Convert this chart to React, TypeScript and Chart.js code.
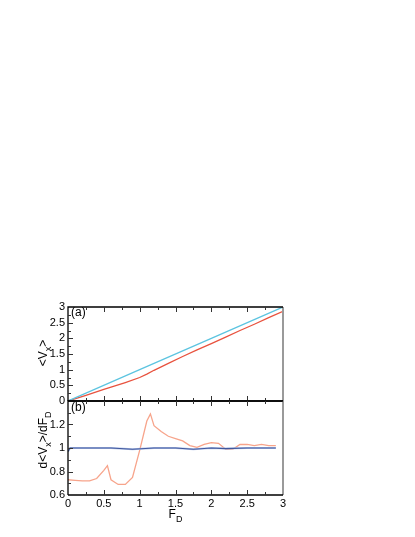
import React, { useEffect, useRef } from "react";
import { Chart, registerables } from "chart.js";

Chart.register(...registerables);

const FONT = "'Liberation Sans', Arial, Helvetica, sans-serif";

// ---- panel (a): <V_x> vs F_D ----
const fdBlueTop = [0, 1, 2, 3];
const vxBlueTop = [0, 1, 2, 3];
const fdRedTop = [0, 0.25, 0.5, 0.6, 0.8, 1.0, 1.1, 1.2, 1.4, 1.6, 1.8, 2.0, 2.2, 2.4, 2.6, 2.8, 3.0];
const vxRedTop = [0, 0.18, 0.37, 0.44, 0.59, 0.75, 0.86, 0.98, 1.2, 1.42, 1.63, 1.83, 2.04, 2.25, 2.45, 2.66, 2.86];

// ---- panel (b): d<V_x>/dF_D vs F_D ----
const fdRedDer = [0, 0.1, 0.2, 0.3, 0.4, 0.5, 0.55, 0.6, 0.7, 0.8, 0.9, 1.0, 1.1, 1.15, 1.2, 1.3, 1.4, 1.5, 1.6, 1.7, 1.8, 1.9, 2.0, 2.1, 2.2, 2.3, 2.4, 2.5, 2.6, 2.7, 2.8, 2.9];
const derRed = [0.73, 0.725, 0.72, 0.72, 0.74, 0.81, 0.85, 0.73, 0.69, 0.69, 0.75, 0.98, 1.23, 1.29, 1.19, 1.14, 1.1, 1.08, 1.06, 1.02, 1.005, 1.03, 1.045, 1.04, 0.99, 0.99, 1.03, 1.03, 1.02, 1.03, 1.02, 1.02];
const fdBlueDer = [0, 0.03, 0.3, 0.6, 0.9, 1.2, 1.5, 1.75, 2.0, 2.2, 2.5, 2.9];
const derBlue = [0.97, 1.0, 1.0, 1.0, 0.99, 1.0, 1.0, 0.99, 1.0, 0.995, 1.0, 1.0];

const xTickLabels = ["0", "0.5", "1", "1.5", "2", "2.5", "3"];

type Part = { t: string; sub?: boolean };

function drawRich(ctx: CanvasRenderingContext2D, parts: Part[], cx: number, cy: number, size: number, rotate: boolean) {
  const subSize = Math.round(size * 0.72);
  ctx.save();
  ctx.translate(cx, cy);
  if (rotate) ctx.rotate(-Math.PI / 2);
  let total = 0;
  const widths = parts.map((p) => {
    ctx.font = `${p.sub ? subSize : size}px ${FONT}`;
    const w = ctx.measureText(p.t).width;
    total += w;
    return w;
  });
  let x = -total / 2;
  ctx.fillStyle = "#000";
  ctx.textBaseline = "middle";
  ctx.textAlign = "left";
  parts.forEach((p, i) => {
    ctx.font = `${p.sub ? subSize : size}px ${FONT}`;
    ctx.fillText(p.t, x, p.sub ? size * 0.35 : 0);
    x += widths[i];
  });
  ctx.restore();
}

function framePlugin(cfg: {
  yMinorStep: number;
  yMajorStep: number;
  label: string;
  labelY: number;
  title: Part[];
  titleY: number;
  xTitle?: boolean;
}) {
  return {
    id: "frame",
    afterDraw(chart: any) {
      const { ctx, chartArea: a, scales } = chart;
      const xs = scales.x;
      const ys = scales.y;
      ctx.save();
      ctx.strokeStyle = "#9a9a9a";
      ctx.lineWidth = 2;
      ctx.beginPath();
      ctx.moveTo(a.right, a.top);
      ctx.lineTo(a.right, a.bottom);
      ctx.stroke();
      ctx.strokeStyle = "#000";
      ctx.lineWidth = 1.3;
      ctx.beginPath();
      ctx.moveTo(a.left, a.bottom);
      ctx.lineTo(a.left, a.top);
      ctx.lineTo(a.right, a.top);
      ctx.moveTo(a.left, a.bottom);
      ctx.lineTo(a.right, a.bottom);
      ctx.stroke();
      ctx.lineWidth = 1;
      ctx.strokeStyle = "#333";
      ctx.beginPath();
      for (let i = 1; i < 12; i++) {
        const v = i * 0.25;
        const px = Math.round(xs.getPixelForValue(v)) + 0.5;
        const len = i % 2 === 0 ? 5 : 3;
        ctx.moveTo(px, a.bottom);
        ctx.lineTo(px, a.bottom - len);
        ctx.moveTo(px, a.top);
        ctx.lineTo(px, a.top + len);
      }
      const ymin = ys.min;
      const ymax = ys.max;
      const n = Math.round((ymax - ymin) / cfg.yMinorStep);
      const ratio = Math.round(cfg.yMajorStep / cfg.yMinorStep);
      for (let i = 1; i < n; i++) {
        const v = ymin + i * cfg.yMinorStep;
        const py = Math.round(ys.getPixelForValue(v)) + 0.5;
        const len = i % ratio === 0 ? 5 : 3;
        ctx.moveTo(a.left, py);
        ctx.lineTo(a.left + len, py);
      }
      ctx.stroke();
      ctx.fillStyle = "#000";
      ctx.font = `12px ${FONT}`;
      ctx.textAlign = "left";
      ctx.textBaseline = "middle";
      ctx.fillText(cfg.label, a.left + 3, cfg.labelY);
      drawRich(ctx, cfg.title, 44, cfg.titleY, 12, true);
      if (cfg.xTitle) {
        drawRich(ctx, [{ t: "F" }, { t: "D", sub: true }], xs.getPixelForValue(1.5), 515, 12, false);
      }
      ctx.restore();
    },
  };
}

const pts = (xs: number[], ys: number[]) => xs.map((x, i) => ({ x, y: ys[i] }));
const fmt = (v: any) => String(Math.round(Number(v) * 10) / 10);

export default function App() {
  const topRef = useRef<HTMLCanvasElement>(null);
  const botRef = useRef<HTMLCanvasElement>(null);

  useEffect(() => {
    const tickFont = { family: FONT, size: 11 };
    const top = new Chart(topRef.current as HTMLCanvasElement, {
      type: "line",
      data: {
        datasets: [
          { data: pts(fdBlueTop, vxBlueTop), borderColor: "#5cc4e0", borderWidth: 1.3, pointRadius: 0, tension: 0 },
          { data: pts(fdRedTop, vxRedTop), borderColor: "#e8523e", borderWidth: 1.3, pointRadius: 0, tension: 0 },
        ],
      },
      options: {
        animation: false,
        responsive: false,
        maintainAspectRatio: false,
        layout: { padding: { left: 0, top: 307, right: 132, bottom: 136 } },
        plugins: { legend: { display: false }, tooltip: { enabled: false } },
        scales: {
          x: { type: "linear", min: 0, max: 3, display: false },
          y: {
            type: "linear",
            min: 0,
            max: 3,
            ticks: { stepSize: 0.5, autoSkip: false, font: tickFont, color: "#000", padding: 3, callback: fmt },
            grid: { display: false, drawTicks: false },
            border: { display: false },
            afterFit: (s: any) => {
              s.width = 68;
            },
          },
        },
      },
      plugins: [
        framePlugin({
          yMinorStep: 0.25,
          yMajorStep: 0.5,
          label: "(a)",
          labelY: 313,
          title: [{ t: "<V" }, { t: "x", sub: true }, { t: ">" }],
          titleY: 353,
        }),
      ],
    } as any);

    const bot = new Chart(botRef.current as HTMLCanvasElement, {
      type: "line",
      data: {
        datasets: [
          { data: pts(fdBlueDer, derBlue), borderColor: "#40579d", borderWidth: 1.1, pointRadius: 0, tension: 0 },
          { data: pts(fdBlueDer, derBlue), borderColor: "#b3c4e8", borderWidth: 2, pointRadius: 0, tension: 0 },
          { data: pts(fdRedDer, derRed), borderColor: "#f7a48b", borderWidth: 1.3, pointRadius: 0, tension: 0 },
        ],
      },
      options: {
        animation: false,
        responsive: false,
        maintainAspectRatio: false,
        layout: { padding: { left: 0, top: 401, right: 132, bottom: 0 } },
        plugins: { legend: { display: false }, tooltip: { enabled: false } },
        scales: {
          x: {
            type: "linear",
            min: 0,
            max: 3,
            ticks: {
              stepSize: 0.5,
              autoSkip: false,
              font: tickFont,
              color: "#000",
              padding: 2,
              maxRotation: 0,
              callback: (v: any) => {
                const i = Math.round(Number(v) * 2);
                return Math.abs(Number(v) * 2 - i) < 1e-6 ? xTickLabels[i] : "";
              },
            },
            grid: { display: false, drawTicks: false },
            border: { display: false },
            afterFit: (s: any) => {
              s.height = 42;
            },
          },
          y: {
            type: "linear",
            min: 0.6,
            max: 1.4,
            ticks: {
              stepSize: 0.2,
              autoSkip: false,
              font: tickFont,
              color: "#000",
              padding: 3,
              callback: (v: any) => {
                const n = Number(v);
                if (Math.abs(n - 1.4) < 1e-6) return "";
                return fmt(n);
              },
            },
            grid: { display: false, drawTicks: false },
            border: { display: false },
            afterFit: (s: any) => {
              s.width = 68;
            },
          },
        },
      },
      plugins: [
        framePlugin({
          yMinorStep: 0.1,
          yMajorStep: 0.2,
          label: "(b)",
          labelY: 408,
          title: [{ t: "d<V" }, { t: "x", sub: true }, { t: ">/dF" }, { t: "D", sub: true }],
          titleY: 440,
          xTitle: true,
        }),
      ],
    } as any);

    return () => {
      top.destroy();
      bot.destroy();
    };
  }, []);

  const style: React.CSSProperties = { position: "absolute", left: 0, top: 0, width: 415, height: 537 };
  return (
    <div style={{ position: "absolute", left: 0, top: 0, width: 415, height: 537 }}>
      <canvas ref={topRef} width={415} height={537} style={style} />
      <canvas ref={botRef} width={415} height={537} style={style} />
    </div>
  );
}
